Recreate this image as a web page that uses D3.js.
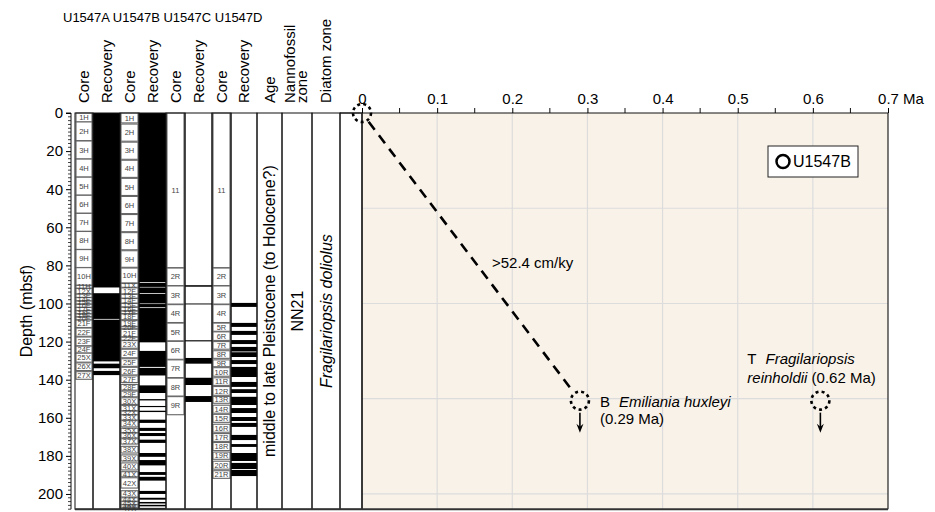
<!DOCTYPE html>
<html><head><meta charset="utf-8">
<script src="https://cdn.jsdelivr.net/npm/d3@7"></script>
<style>body{margin:0;background:#fff}svg{font-family:Arial,"Liberation Sans",sans-serif}</style>
</head><body><svg id="c" width="935" height="512"></svg>
<script>
// ---------------- DATA ----------------
const holesTitle = "U1547A U1547B U1547C U1547D";
const headerLabels = [["Core"],["Recovery"],["Core"],["Recovery"],["Core"],["Recovery"],["Core"],["Recovery"],["Age"],["Nannofossil","zone"],["Diatom zone"]];
const depthTicks = [0,20,40,60,80,100,120,140,160,180,200];
const ageTicks = [0,0.1,0.2,0.3,0.4,0.5,0.6,0.7];
const ageUnit = "Ma";
const depthLabel = "Depth (mbsf)";
const ageText = "middle to late Pleistocene (to Holocene?)";
const nannoZone = "NN21";
const diatomZone = "Fragilariopsis doliolus";

const coresA = [["1H",0,4.7],["2H",4.7,14.5],["3H",14.7,24.1],["4H",24.2,33.6],["5H",33.7,43.1],["6H",43.2,52.6],["7H",52.7,62.1],["8H",62.2,71.6],["9H",71.7,81.1],["10H",81.2,90.4],["11H",90.5,92.0],["12X",92.1,95.0],["13F",95.1,96.8],["14F",96.9,98.6],["15F",98.7,100.3],["16F",100.4,102.0],["17F",102.1,103.7],["18F",103.8,105.4],["19F",105.5,107.0],["20F",107.1,108.6],["21F",108.7,112.6],["22F",112.9,117.2],["23F",117.6,122.2],["24F",122.4,126.0],["25X",126.1,130.8],["26X",131.2,135.2],["27X",135.8,139.8]];
const recA = [[0,91.6],[94.6,108.1],[108.5,130.4],[131.6,134.0],[135.4,137.6]];

const coresB = [["1H",0,5.2],["2H",5.8,14.8],["3H",15.3,24.3],["4H",24.8,33.8],["5H",34.3,43.3],["6H",43.8,52.8],["7H",53.3,62.3],["8H",62.8,71.8],["9H",72.3,81.0],["10H",81.4,89.2],["11X",89.5,91.5],["12F",91.8,95.0],["13F",95.2,97.2],["14F",97.4,99.8],["15F",100.0,101.8],["16F",102.0,103.8],["17F",104.0,105.3],["18F",105.5,108.5],["19F",109.0,112.0],["20F",112.2,113.3],["21F",113.5,117.5],["22F",117.7,119.3],["23X",119.5,123.5],["24F",124.0,128.5],["25F",129.0,133.0],["26F",133.5,137.5],["27F",138.0,141.5],["28F",142.5,145.5],["29F",146.0,149.0],["30X",149.5,153.0],["31X",153.5,156.3],["32X",156.5,158.3],["33X",158.5,161.2],["34X",161.5,164.8],["35X",165.5,167.8],["36X",168.0,170.6],["37X",171.0,173.8],["38X",175.0,178.5],["39X",179.5,182.7],["40X",183.7,187.4],["41X",188.3,191.0],["42X",191.5,196.9],["43X",198.3,201.6],["44X",202.0,203.8],["45X",204.0,205.5],["46X",205.7,207.0],["47X",207.2,208.0]];
const recB = [[0,88.8],[89.2,91.3],[91.6,94.6],[95.0,100.0],[100.3,102.0],[102.4,120.4],[124.9,133.3],[133.8,137.8],[143.0,147.0],[150.2,150.9],[153.8,154.4],[156.3,157.0],[161.0,162.7],[165.3,166.9],[168.0,169.6],[171.5,173.2],[178.5,180.5],[182.2,185.0],[188.5,190.0],[191.0,193.0],[198.4,200.0],[202.0,203.0],[204.2,205.0],[205.7,206.5],[207.3,208.0]];

const coresC = [["11",0,81.2],["2R",81.4,90.6],["3R",90.8,100.3],["4R",100.6,110.0],["5R",110.3,119.6],["6R",119.9,129.3],["7R",129.6,138.9],["8R",139.2,148.6],["9R",148.9,158.4]];
const recC = [[90.4,91.2],[100.0,100.5],[119.3,119.9],[128.6,131.6],[139.0,142.8],[148.6,151.7]];

const coresD = [["11",0,81.2],["2R",81.4,90.6],["3R",90.8,100.3],["4R",100.6,110.0],["5R",110.3,114.6],["6R",114.9,119.4],["7R",120.0,124.0],["8R",124.8,128.8],["9R",129.6,133.2],["10R",133.7,138.2],["11R",139.0,143.0],["12R",143.6,148.2],["13R",148.8,152.4],["14R",153.4,157.6],["15R",158.2,162.4],["16R",163.4,167.6],["17R",168.3,172.4],["18R",173.0,177.2],["19R",178.0,181.8],["20R",182.8,187.0],["21R",187.8,191.8]];
const recD = [[99.7,101.8],[110.2,112.3],[114.4,116.5],[119.2,121.3],[122.8,125.2],[125.6,128.1],[129.7,131.8],[133.3,138.6],[141.2,143.8],[145.0,147.0],[149.0,153.3],[154.9,157.5],[159.6,161.7],[162.7,164.8],[169.0,171.7],[173.8,175.3],[178.5,182.7],[183.7,186.9],[187.4,190.6]];

const originAge = 0, originDepth = 0;
const eventPrefix = ["B","T"];
const eventTaxa = ["Emiliania huxleyi","Fragilariopsis reinholdii"];
const eventAgeLabels = ["0.29 Ma","0.62 Ma"];
const eventAges = [0.29, 0.61];
const eventDepths = [151, 151];
const rateLabel = ">52.4 cm/ky";
const legendLabel = "U1547B";

// ---------------- LAYOUT ----------------
const svg = d3.select("#c");
const y = d3.scaleLinear().domain([0,208]).range([113,509.2]);
const x = d3.scaleLinear().domain([0,0.7]).range([362,888]);
const colEdges = [75,93,120,139,166,185,212,231,257,282,312,340,362];
const yTop = y(0), yBot = y(208);
const FS = 15;

// header
svg.append("text").attr("x",63).attr("y",22).attr("font-size",13).text(holesTitle);
headerLabels.forEach((lines,i)=>{
  const cx = (colEdges[i]+colEdges[i+1])/2;
  lines.forEach((t,j)=>{
    const off = lines.length>1 ? (j===0?-7:5) : 0;
    svg.append("text").attr("transform",`translate(${cx+off},103) rotate(-90)`)
      .attr("dy","0.35em").attr("font-size",FS).text(t);
  });
});

// right panel background + grid
const plot = svg.append("g");
plot.append("rect").attr("x",x(0)).attr("y",yTop).attr("width",x(0.7)-x(0)).attr("height",yBot-yTop).attr("fill","#f9f2e9");
plot.append("g").selectAll("line").data(ageTicks.slice(1,-1)).join("line")
  .attr("x1",d=>x(d)).attr("x2",d=>x(d)).attr("y1",yTop).attr("y2",yBot).attr("stroke","#dcdcdc").attr("stroke-width",1.2);
plot.append("g").selectAll("line").data([50,100,150,200]).join("line")
  .attr("x1",x(0)).attr("x2",x(0.7)).attr("y1",d=>y(d)).attr("y2",d=>y(d)).attr("stroke","#dcdcdc").attr("stroke-width",1.2);

// columns
const colG = svg.append("g");
function drawCores(cores, ci){
  const x0 = colEdges[ci], x1 = colEdges[ci+1];
  const g = colG.append("g");
  g.selectAll("rect").data(cores).join("rect")
    .attr("x",x0+1).attr("width",x1-x0-2)
    .attr("y",d=>y(d[1])).attr("height",d=>y(d[2])-y(d[1]))
    .attr("fill","#fff").attr("stroke","#666").attr("stroke-width",1.1);
  g.selectAll("text").data(cores).join("text")
    .attr("x",(x0+x1)/2).attr("y",d=>(y(d[1])+y(d[2]))/2).attr("dy","0.35em")
    .attr("text-anchor","middle").attr("font-size",7.5).attr("fill","#444").text(d=>d[0]);
}
function drawRec(rec, ci){
  const x0 = colEdges[ci], x1 = colEdges[ci+1];
  colG.append("g").selectAll("rect").data(rec).join("rect")
    .attr("x",x0).attr("width",x1-x0)
    .attr("y",d=>y(d[0])).attr("height",d=>y(d[1])-y(d[0])).attr("fill","#000");
}
drawCores(coresA,0); drawRec(recA,1);
drawCores(coresB,2); drawRec(recB,3);
drawCores(coresC,4); drawRec(recC,5);
drawCores(coresD,6); drawRec(recD,7);

// column outlines
for(let i=0;i<colEdges.length-1;i++){
  colG.append("rect").attr("x",colEdges[i]).attr("y",yTop).attr("width",colEdges[i+1]-colEdges[i]).attr("height",yBot-yTop)
    .attr("fill","none").attr("stroke","#111").attr("stroke-width",1);
}

// zone texts
function vtext(ci, t, italic){
  const cx = (colEdges[ci]+colEdges[ci+1])/2;
  svg.append("text").attr("transform",`translate(${cx},${(yTop+yBot)/2}) rotate(-90)`)
    .attr("dy","0.35em").attr("text-anchor","middle").attr("font-size",16)
    .attr("font-style",italic?"italic":"normal").text(t);
}
vtext(8, ageText, false);
vtext(9, nannoZone, false);
vtext(10, diatomZone, true);

// depth axis
const ax = svg.append("g").attr("transform","translate(71,0)")
  .call(d3.axisLeft(y).tickValues(depthTicks).tickSize(5).tickPadding(3).tickFormat(d3.format("d")));
ax.select(".domain").attr("d",`M-5,${yTop}H0V${yBot}`).attr("stroke","#111");
ax.selectAll("text").attr("font-size",FS).attr("font-family","Arial,'Liberation Sans',sans-serif");
svg.append("g").selectAll("line").data(d3.range(0,209,2).filter(d=>d%20)).join("line")
  .attr("x1",68).attr("x2",71).attr("y1",d=>y(d)).attr("y2",d=>y(d)).attr("stroke","#111").attr("stroke-width",0.8);
svg.append("text").attr("transform",`translate(26,${(yTop+yBot)/2}) rotate(-90)`)
  .attr("dy","0.35em").attr("text-anchor","middle").attr("font-size",FS+1).text(depthLabel);

// age axis
const tx = svg.append("g").attr("transform",`translate(0,${yTop})`)
  .call(d3.axisTop(x).tickValues(ageTicks).tickSize(5).tickPadding(4).tickFormat(d=>d===0?"0":d3.format(".1f")(d)));
tx.select(".domain").attr("d",`M340,0H${x(0.7)}`).attr("stroke","#111");
tx.selectAll("text").attr("font-size",FS).attr("font-family","Arial,'Liberation Sans',sans-serif");
svg.append("g").selectAll("line").data(d3.range(0.05,0.7,0.1)).join("line")
  .attr("x1",d=>x(d)).attr("x2",d=>x(d)).attr("y1",yTop-5).attr("y2",yTop).attr("stroke","#111");
svg.append("text").attr("x",x(0.7)+15).attr("y",yTop-9).attr("font-size",FS).text(ageUnit);

// frame of right panel
svg.append("line").attr("x1",x(0)).attr("x2",x(0)).attr("y1",yTop).attr("y2",yBot).attr("stroke","#222").attr("stroke-width",1.5);
svg.append("line").attr("x1",x(0.7)).attr("x2",x(0.7)).attr("y1",yTop).attr("y2",yBot).attr("stroke","#222").attr("stroke-width",1.2);
svg.append("line").attr("x1",colEdges[0]).attr("x2",x(0.7)).attr("y1",yBot).attr("y2",yBot).attr("stroke","#333").attr("stroke-width",2);

// rate line
const R = 9;
const p0 = [x(originAge), y(originDepth)], p1 = [x(eventAges[0]), y(eventDepths[0])];
const ddx = p1[0]-p0[0], ddy = p1[1]-p0[1], L = Math.hypot(ddx,ddy);
svg.append("line").attr("x1",p0[0]+ddx/L*(R+2)).attr("y1",p0[1]+ddy/L*(R+2))
  .attr("x2",p1[0]-ddx/L*(R+2)).attr("y2",p1[1]-ddy/L*(R+2))
  .attr("stroke","#000").attr("stroke-width",2.6).attr("stroke-dasharray","10,7");
svg.append("text").attr("x",(p0[0]+p1[0])/2+21).attr("y",(p0[1]+p1[1])/2+11).attr("font-size",FS).text(rateLabel);

// markers
const pts = [[originAge,originDepth]].concat(eventAges.map((a,i)=>[a,eventDepths[i]]));
svg.append("g").selectAll("circle").data(pts).join("circle")
  .attr("cx",d=>x(d[0])).attr("cy",d=>y(d[1])).attr("r",R)
  .attr("fill","none").attr("stroke","#000").attr("stroke-width",2.6).attr("stroke-dasharray","3,3.2");

// arrows (pointing down)
eventAges.forEach((a,i)=>{
  const ax0 = x(a), ay0 = y(eventDepths[i])+R+3, ay1 = y(eventDepths[i])+R+23;
  svg.append("line").attr("x1",ax0).attr("x2",ax0).attr("y1",ay0).attr("y2",ay1-4)
    .attr("stroke","#000").attr("stroke-width",1.6);
  svg.append("path").attr("d",`M${ax0-3.5},${ay1-9}L${ax0},${ay1}L${ax0+3.5},${ay1-9}L${ax0},${ay1-6}Z`).attr("fill","#000");
});

// event labels
{
  const cx = x(eventAges[0]), cy = y(eventDepths[0]);
  const t = svg.append("text").attr("x",cx+20).attr("y",cy+6).attr("font-size",FS);
  t.append("tspan").text(eventPrefix[0]);
  t.append("tspan").attr("dx",9).attr("font-style","italic").text(eventTaxa[0]);
  svg.append("text").attr("x",cx+20).attr("y",cy+23).attr("font-size",FS).text("("+eventAgeLabels[0]+")");
}
{
  const cx = x(eventAges[1]), cy = y(eventDepths[1]);
  const [g1,g2] = eventTaxa[1].split(" ");
  const t = svg.append("text").attr("x",cx-73).attr("y",cy-37).attr("font-size",FS);
  t.append("tspan").text(eventPrefix[1]);
  t.append("tspan").attr("dx",9).attr("font-style","italic").text(g1);
  const t2 = svg.append("text").attr("x",cx-73).attr("y",cy-18).attr("font-size",FS);
  t2.append("tspan").attr("font-style","italic").text(g2);
  t2.append("tspan").text(" ("+eventAgeLabels[1]+")");
}

// legend
const lg = svg.append("g");
lg.append("rect").attr("x",768).attr("y",146).attr("width",90).attr("height",31).attr("fill","#fff").attr("stroke","#222").attr("stroke-width",1);
lg.append("circle").attr("cx",783).attr("cy",161.5).attr("r",6.5).attr("fill","none").attr("stroke","#000").attr("stroke-width",2.5);
lg.append("text").attr("x",793).attr("y",167).attr("font-size",FS+1).text(legendLabel);
</script></body></html>
